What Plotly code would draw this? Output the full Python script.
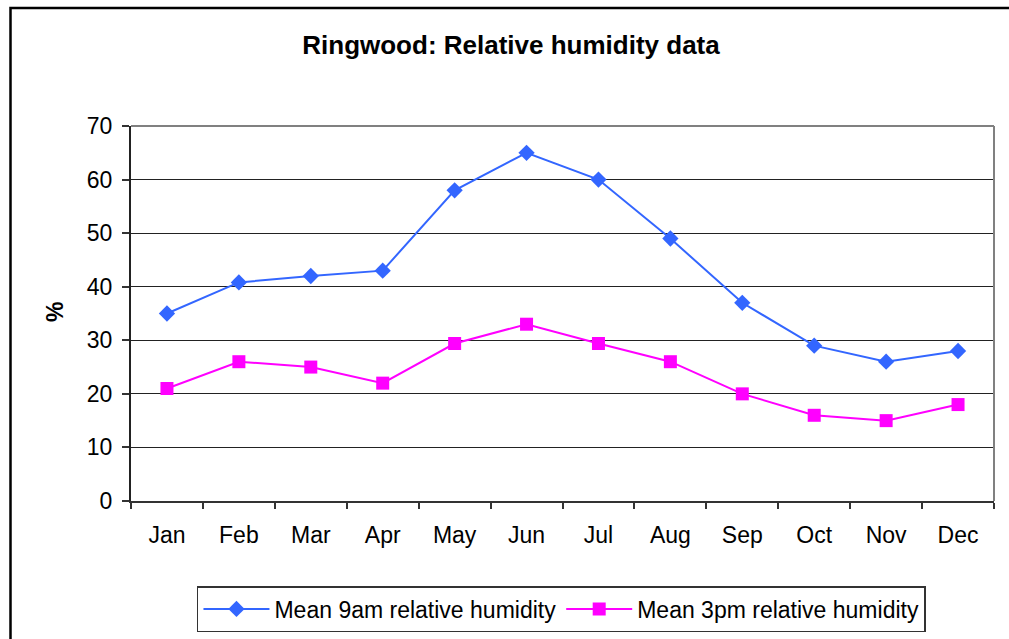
import plotly.graph_objects as go

months = ["Jan", "Feb", "Mar", "Apr", "May", "Jun", "Jul", "Aug", "Sep", "Oct", "Nov", "Dec"]
rh_9am = [35, 40.8, 42, 43, 58, 65, 60, 49, 37, 29, 26, 28]
rh_3pm = [21, 26, 25, 22, 29.4, 33, 29.4, 26, 20, 16, 15, 18]
y_ticks = [0, 10, 20, 30, 40, 50, 60, 70]

W, H = 1009, 639
L, R, T, B = 131, 15, 126, 138
pw, ph = W - L - R, H - T - B

FONT = "Liberation Sans, Arial, sans-serif"


def px_x(p):
    return (p - L) / pw


def px_y(p):
    return (H - B - p) / ph


fig = go.Figure()
fig.add_trace(go.Scatter(
    x=months, y=rh_9am, mode="lines+markers", name="Mean 9am relative humidity",
    line=dict(color="#3366FF", width=2),
    marker=dict(symbol="diamond", size=12.5, color="#3366FF"),
))
fig.add_trace(go.Scatter(
    x=months, y=rh_3pm, mode="lines+markers", name="Mean 3pm relative humidity",
    line=dict(color="#FF00FF", width=2),
    marker=dict(symbol="square", size=13, color="#FF00FF"),
))

fig.update_layout(
    width=W, height=H,
    margin=dict(l=L, r=R, t=T, b=B, pad=0, autoexpand=False),
    paper_bgcolor="white", plot_bgcolor="white",
    font=dict(family=FONT, size=23, color="black"),
    title=dict(
        text="<b>Ringwood: Relative humidity data</b>",
        x=511 / W, xanchor="center", xref="container",
        y=1 - 45 / H, yanchor="middle", yref="container",
        font=dict(family=FONT, size=26, color="black"),
    ),
    showlegend=True,
    legend=dict(
        orientation="h", x=0.4988, xanchor="center",
        y=px_y(586), yanchor="top",
        bordercolor="#333333", borderwidth=1.5, bgcolor="white",
        font=dict(family=FONT, size=23, color="black"),
        itemwidth=66,
    ),
)

fig.update_xaxes(
    type="category", range=[-0.5, 11.5], automargin=False,
    tickson="boundaries", ticks="outside", ticklen=6, tickwidth=1.5, tickcolor="#333",
    showline=True, linecolor="#333", linewidth=2,
    showgrid=False, zeroline=False, ticklabelstandoff=12,
    tickfont=dict(family=FONT, size=23),
)
fig.update_yaxes(
    range=[0, 70], tickvals=y_ticks, automargin=False,
    ticks="outside", ticklen=7, tickwidth=1.5, tickcolor="#333",
    showline=True, linecolor="#222", linewidth=2,
    showgrid=True, gridcolor="#222222", gridwidth=1, zeroline=False,
    ticklabelstandoff=5,
    tickfont=dict(family=FONT, size=23),
)

# plot-area frame on the top and right sides
fig.add_shape(type="line", xref="paper", yref="paper", x0=0, x1=1, y0=1, y1=1,
              line=dict(color="#808080", width=2), layer="above")
fig.add_shape(type="line", xref="paper", yref="paper", x0=1, x1=1, y0=0, y1=1,
              line=dict(color="#808080", width=2), layer="above")

# outer chart border (runs off the right and bottom edges)
fig.add_shape(type="rect", xref="paper", yref="paper",
              x0=px_x(10.5), x1=px_x(1030), y0=px_y(8), y1=px_y(660),
              line=dict(color="black", width=2.5), layer="above")

# y-axis title
fig.add_annotation(
    text="<b>%</b>", xref="paper", yref="paper",
    x=px_x(55), y=px_y(312), xanchor="center", yanchor="middle",
    textangle=-90, showarrow=False,
    font=dict(family=FONT, size=23, color="black"),
)

fig.write_html("out.html")
